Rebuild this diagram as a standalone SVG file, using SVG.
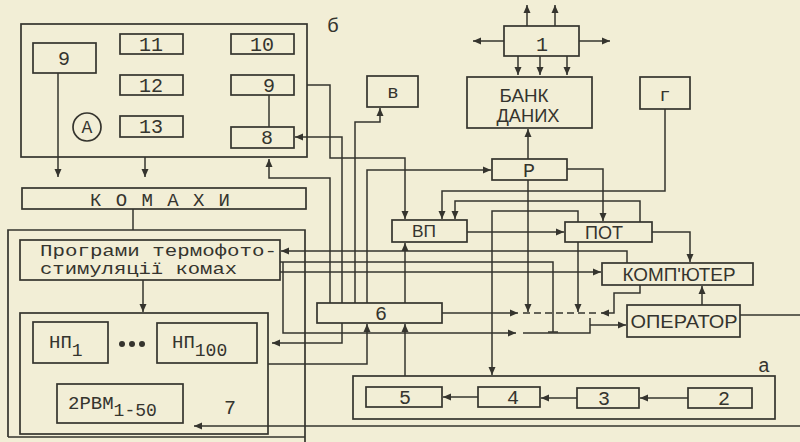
<svg xmlns="http://www.w3.org/2000/svg" width="800" height="442" viewBox="0 0 800 442">
<style>
.b{fill:none;stroke:#35342e;stroke-width:1.7}
.c{fill:none;stroke:#35342e;stroke-width:1.5}
.a{marker-end:url(#ah)}
.m{font-family:"Liberation Mono","DejaVu Sans Mono",monospace;fill:#35342e;text-anchor:middle}
.s{font-family:"Liberation Sans","DejaVu Sans",sans-serif;fill:#35342e;text-anchor:middle}
.n{font-size:20px}
.d{stroke-dasharray:7 4}
</style>
<defs>
<marker id="ah" markerUnits="userSpaceOnUse" markerWidth="9" markerHeight="8" refX="8" refY="4" orient="auto">
<path d="M0,0.5 L8,4 L0,7.5 z" fill="#35342e"/>
</marker>
</defs>
<rect width="800" height="442" fill="#f2eed6"/>

<g id="boxA">
<rect class="b" x="21" y="24" width="286" height="133"/>
</g>
<g id="n9a"><rect class="b" x="33" y="43" width="63" height="30"/><text class="m n" x="64" y="65">9</text></g>
<g id="n11"><rect class="b" x="120" y="34" width="63" height="20"/><text class="m n" x="151" y="51">11</text></g>
<g id="n10"><rect class="b" x="231" y="34" width="63" height="20"/><text class="m n" x="262" y="51">10</text></g>
<g id="n12"><rect class="b" x="120" y="75" width="63" height="20"/><text class="m n" x="151" y="92">12</text></g>
<g id="n9b"><rect class="b" x="231" y="75" width="63" height="20"/><text class="m n" x="269" y="92">9</text></g>
<g id="n13"><rect class="b" x="120" y="116" width="63" height="21"/><text class="m n" x="151" y="133">13</text></g>
<g id="n8"><rect class="b" x="231" y="127" width="63" height="21"/><text class="m n" x="267" y="144">8</text></g>
<g id="circA"><circle class="b" cx="87" cy="127" r="14"/><text class="m" font-size="18" x="87" y="133">А</text></g>
<text class="m" font-size="20" x="333" y="32">б</text>

<g id="n1"><rect class="b" x="504" y="26" width="75" height="30"/><text class="m n" x="542" y="51">1</text></g>
<g id="bank"><rect class="b" x="467" y="77" width="125" height="51"/>
<text class="s" font-size="19" x="524" y="102" textLength="49" lengthAdjust="spacingAndGlyphs">БАНК</text>
<text class="s" font-size="19" x="528" y="122" textLength="63" lengthAdjust="spacingAndGlyphs">ДАНИХ</text></g>
<g id="nv"><rect class="b" x="367" y="76" width="51" height="31"/><text class="m" font-size="19" x="393" y="98">в</text></g>
<g id="ng"><rect class="b" x="640" y="77" width="50" height="32"/><text class="m" font-size="19" x="665" y="101">г</text></g>
<g id="nR"><rect class="b" x="492" y="159" width="75" height="21"/><text class="m n" x="529" y="177">Р</text></g>
<g id="nVP"><rect class="b" x="392" y="220" width="75" height="22"/><text class="s" font-size="17" x="424" y="237" textLength="24" lengthAdjust="spacingAndGlyphs">ВП</text></g>
<g id="nPOT"><rect class="b" x="565" y="222" width="87" height="20"/><text class="s" font-size="18" x="604" y="239" textLength="38" lengthAdjust="spacingAndGlyphs">ПОТ</text></g>
<g id="nKOMP"><rect class="b" x="602" y="263" width="151" height="22"/><text class="s" font-size="19" x="679" y="281" textLength="113" lengthAdjust="spacingAndGlyphs">КОМП'ЮТЕР</text></g>
<g id="nOPER"><rect class="b" x="627" y="305" width="113" height="32"/><text class="s" font-size="19" x="684" y="328" textLength="107" lengthAdjust="spacingAndGlyphs">ОПЕРАТОР</text></g>

<g id="komahy"><rect class="b" x="22" y="188" width="284" height="21"/><text class="m" font-size="19" x="160" y="206" textLength="140" lengthAdjust="spacing">К О М А Х И</text></g>
<g id="outer7"><path class="b" d="M8,437 V230 H305 V442 M8,437 H305"/></g>
<g id="prog"><rect class="b" x="20" y="240" width="260" height="40"/>
<text class="m" font-size="16" x="40" y="256" style="text-anchor:start" textLength="237" lengthAdjust="spacingAndGlyphs">Програми термофото-</text>
<text class="m" font-size="16" x="40" y="274" style="text-anchor:start" textLength="197" lengthAdjust="spacingAndGlyphs">стимуляції комах</text></g>
<g id="n7"><rect class="b" x="20" y="313" width="248" height="121"/><text class="m n" x="230" y="414">7</text></g>
<g id="np1"><rect class="b" x="33" y="322" width="75" height="41"/><text class="m" font-size="19" x="49" y="348" style="text-anchor:start">НП<tspan font-size="18" dy="8">1</tspan></text></g>
<g id="dots"><circle cx="122" cy="344" r="3" fill="#35342e"/><circle cx="132" cy="344" r="3" fill="#35342e"/><circle cx="142" cy="344" r="3" fill="#35342e"/></g>
<g id="np100"><rect class="b" x="157" y="323" width="100" height="40"/><text class="m" font-size="19" x="172" y="348" style="text-anchor:start">НП<tspan font-size="18" dy="8">100</tspan></text></g>
<g id="rvm"><rect class="b" x="57" y="384" width="126" height="39"/><text class="m" font-size="19" x="68" y="409" style="text-anchor:start">2РВМ<tspan font-size="18" dy="7">1-50</tspan></text></g>

<g id="n6"><rect class="b" x="317" y="303" width="125" height="20"/><text class="m n" x="381" y="320">6</text></g>
<g id="boxa"><rect class="b" x="353" y="376" width="422" height="43"/></g>
<text class="m" font-size="20" x="764" y="372">а</text>
<g id="n5"><rect class="b" x="366" y="387" width="76" height="20"/><text class="m n" x="405" y="404">5</text></g>
<g id="n4"><rect class="b" x="478" y="387" width="62" height="20"/><text class="m n" x="513" y="404">4</text></g>
<g id="n3"><rect class="b" x="577" y="388" width="62" height="20"/><text class="m n" x="604" y="405">3</text></g>
<g id="n2"><rect class="b" x="688" y="388" width="64" height="20"/><text class="m n" x="724" y="405">2</text></g>

<g id="connectors">
<path class="c a" d="M58,73 V177"/>
<path class="c a" d="M145,157 V177"/>
<path class="c" d="M269,95 V127"/>
<path class="c" d="M133,209 V230"/>
<path class="c a" d="M143,280 V312"/>
<path class="c a" d="M307,85 H330 V158 H405 V219"/>
<path class="c a" d="M342,303 V137 H295"/>
<path class="c a" d="M330,303 V178 H269 V159"/>
<path class="c a" d="M355,303 V122 H380 V108"/>
<path class="c a" d="M367,303 V170 H491"/>
<path class="c a" d="M405,303 V243"/>
<path class="c a" d="M528,159 V129"/>
<path class="c a" d="M504,41 H473"/>
<path class="c a" d="M579,41 H610"/>
<path class="c a" d="M527,26 V5"/>
<path class="c a" d="M555,26 V5"/>
<path class="c a" d="M518,56 V75"/>
<path class="c a" d="M540,56 V75"/>
<path class="c a" d="M567,56 V75"/>
<path class="c a" d="M665,109 V191 H442 V219"/>
<path class="c a" d="M640,222 V201 H455 V219"/>
<path class="c a" d="M467,232 H564"/>
<path class="c a" d="M567,169 H603 V221"/>
<path class="c a" d="M578,222 V211 H492 V375"/>
<path class="c a" d="M528,180 V312"/>
<path class="c a" d="M578,242 V312"/>
<path class="c a" d="M652,232 H690 V262"/>
<path class="c a" d="M627,263 V251 H281"/>
<path class="c" d="M280,262 H553 V332 M548,332 H558"/>
<path class="c a" d="M280,272 H601"/>
<path class="c a" d="M283,262 V333 H516"/>
<path class="c" d="M523,333 H590 V318"/>
<path class="c a" d="M590,325 H626"/>
<path class="c a" d="M442,313 H518"/>
<path class="c d" d="M523,313 H600"/>
<path class="c a" d="M640,285 V293 H614 V313 H601"/>
<path class="c a" d="M702,305 V286"/>
<path class="c" d="M740,315 H800"/>
<path class="c a" d="M800,426 H194"/>
<path class="c a" d="M342,323 V343 H272"/>
<path class="c a" d="M268,364 H367 V324"/>
<path class="c a" d="M405,376 V324"/>
<path class="c a" d="M478,397 H443"/>
<path class="c a" d="M577,398 H541"/>
<path class="c a" d="M688,398 H640"/>
</g>
</svg>
